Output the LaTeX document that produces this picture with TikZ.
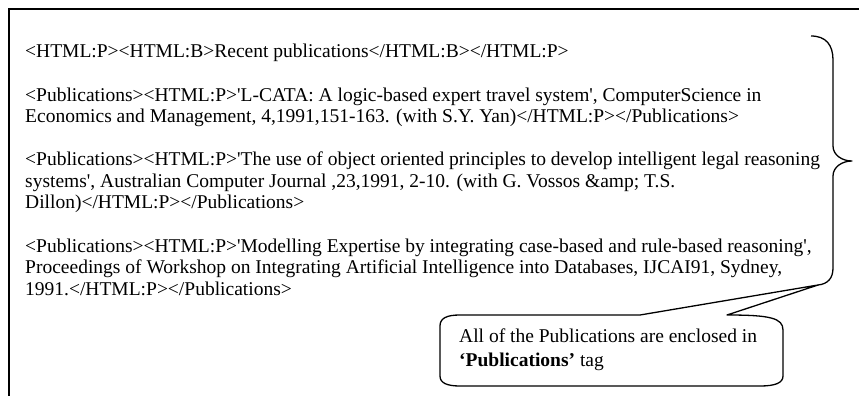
\documentclass[tikz,border=0pt]{standalone}
\usepackage{fontspec}
\newfontfamily\pubfont{Liberation Serif}
\usetikzlibrary{positioning}

\tikzset{
  tagline/.style={anchor=base west, inner sep=0pt, align=left,
    font=\pubfont\fontsize{19.5}{21.5}\selectfont},
  outline/.style={line width=1.3pt, line join=round},
}

\begin{document}
\begin{tikzpicture}[x=1pt, y=-1pt]
    \useasboundingbox (0,0) rectangle (859,396);

    % Frame (open at right and bottom)
    \draw [line width=1.4pt] (859,9) -- (9,9) -- (9,396);

    % Tagged publication list (placed at the baseline of each last line)
    \node [tagline] (recent) at (25,58) {<HTML:P><HTML:B>Recent publications</HTML:B></HTML:P>};
    \node [tagline] (pubA) at (25,122.5) {<Publications><HTML:P>'L-CATA: A logic-based expert travel system', ComputerScience in\\
        Economics and Management, 4,1991,151-163. (with S.Y. Yan)</HTML:P></Publications>};
    \node [tagline] (pubB) at (25,208.5) {<Publications><HTML:P>'The use of object oriented principles to develop intelligent legal reasoning\\
        systems', Australian Computer Journal ,23,1991, 2-10. (with G. Vossos \&amp; T.S.\\
        Dillon)</HTML:P></Publications>};
    \node [tagline] (pubC) at (25,295) {<Publications><HTML:P>'Modelling Expertise by integrating case-based and rule-based reasoning',\\
        Proceedings of Workshop on Integrating Artificial Intelligence into Databases, IJCAI91, Sydney,\\
        1991.</HTML:P></Publications>};

    % Brace
    \draw [outline] (811,36) .. controls (826,36) and (833,45) .. (833,60)
        -- (833,146) .. controls (833,155) and (842,161) .. (852,161)
        .. controls (842,161) and (833,167) .. (833,176)
        -- (833,268) .. controls (833,278) and (828,284) .. (818,285);

    % Callout
    \coordinate (tip) at (818,285);
    \draw [outline] (640,315) -- (tip) -- (727,315)
        .. controls (770,315) and (783,318) .. (783,330) -- (783,376)
        .. controls (783,383) and (775,386) .. (760,386) -- (460,386)
        .. controls (447,386) and (440,383) .. (440,376) -- (440,326)
        .. controls (440,318) and (447,315) .. (460,315) -- cycle;
    \node [tagline, font=\pubfont\fontsize{19.5}{24}\selectfont] (note) at (459,366)
        {All of the Publications are enclosed in\\\textbf{‘Publications’} tag};
\end{tikzpicture}
\end{document}
